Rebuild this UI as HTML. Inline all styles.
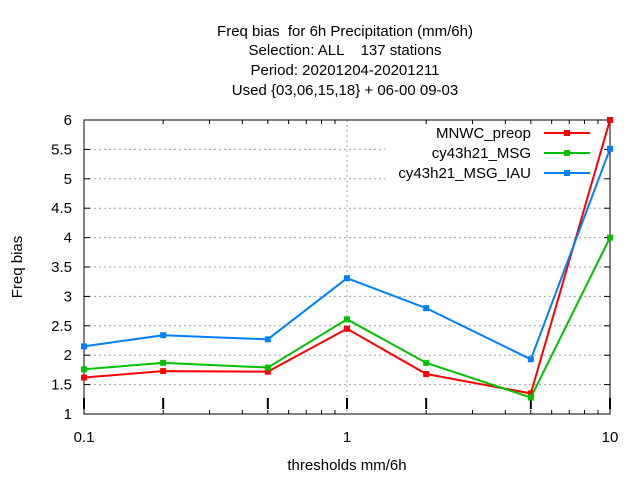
<!DOCTYPE html>
<html><head><meta charset="utf-8"><style>
body{margin:0;background:#fff;}
svg text{font-family:"Liberation Sans",sans-serif;font-size:15px;fill:#000;white-space:pre;}
</style></head><body>
<svg id="chart" width="640" height="480">
<g id="titles">
<text x="345" y="36" text-anchor="middle">Freq bias  for 6h Precipitation (mm/6h)</text>
<text x="345" y="55" text-anchor="middle">Selection: ALL    137 stations</text>
<text x="345" y="75" text-anchor="middle">Period: 20201204-20201211</text>
<text x="345" y="95" text-anchor="middle">Used {03,06,15,18} + 06-00 09-03</text>
</g>
<text x="22" y="267" text-anchor="middle" transform="rotate(-90 22 267)">Freq bias</text>
<text x="347" y="470" text-anchor="middle">thresholds mm/6h</text>
<g id="grid"></g><g id="axes"></g><g id="series"></g><g id="legend"></g>
</svg>
<script>
const categories=[0.1,0.2,0.5,1,2,5,10];
const seriesNames=["MNWC_preop","cy43h21_MSG","cy43h21_MSG_IAU"];
const seriesColors=["#ff0000","#00c000","#0080ff"];
const mnwc=[1.62,1.73,1.72,2.45,1.68,1.35,6.0];
const msg=[1.76,1.87,1.79,2.61,1.87,1.28,4.0];
const iau=[2.15,2.34,2.27,3.31,2.80,1.93,5.51];
const yTicks=[1,1.5,2,2.5,3,3.5,4,4.5,5,5.5,6];
const xTicks=[0.1,1,10];
const NS="http://www.w3.org/2000/svg";
const L=84,R=610,T=120,B=414;
function xs(v){return L+(Math.log10(v)+1)/2*(R-L);}
function ys(v){return B-(v-1)/5*(B-T);}
function mk(tag,attrs,parent){const e=document.createElementNS(NS,tag);for(const k in attrs)e.setAttribute(k,attrs[k]);parent.appendChild(e);return e;}
const grid=document.getElementById('grid'),axes=document.getElementById('axes'),ser=document.getElementById('series'),leg=document.getElementById('legend');
yTicks.forEach(v=>{const y=ys(v);
 if(v>1&&v<6){const g=mk('line',{x1:L,x2:(y<185?385:R),y1:y,y2:y,stroke:'#a0a0a0','stroke-dasharray':'2,3'},grid);
 
 }
 mk('line',{x1:L,x2:L+6,y1:y,y2:y,stroke:'#000'},axes);
 mk('line',{x1:R,x2:R-6,y1:y,y2:y,stroke:'#000'},axes);
 const t=mk('text',{x:L-12,y:y+5,'text-anchor':'end'},axes);t.textContent=String(v);
 
 
});
const vg=mk('line',{x1:xs(1),x2:xs(1),y1:T,y2:B,stroke:'#a0a0a0','stroke-dasharray':'2,3'},grid);


xTicks.forEach(v=>{const x=xs(v);
 const t=mk('text',{x:x,y:442,'text-anchor':'middle'},axes);t.textContent=String(v);
 
 
});
for(let d=0.1;d<10;d*=10){for(let k=2;k<10;k++){const x=xs(d*k);
 mk('line',{x1:x,x2:x,y1:B,y2:B-4,stroke:'#000'},axes);mk('line',{x1:x,x2:x,y1:T,y2:T+4,stroke:'#000'},axes);}}
categories.forEach(v=>{const x=xs(v);mk('line',{x1:x,x2:x,y1:398,y2:409,stroke:'#000','stroke-width':2},axes);});
const frame=mk('rect',{x:L,y:T,width:R-L,height:B-T,fill:'none',stroke:'#000'},axes);


[mnwc,msg,iau].forEach((vals,i)=>{
 const g=mk('g',{},ser);
 
 
 mk('polyline',{points:vals.map((v,j)=>xs(categories[j])+','+ys(v)).join(' '),fill:'none',stroke:seriesColors[i],'stroke-width':2},g);
 vals.forEach((v,j)=>{const p=mk('rect',{x:xs(categories[j])-3,y:ys(v)-3,width:6,height:6,fill:seriesColors[i]},g);
  
  });
 const ly=133+20*i;
 const le=mk('g',{},leg);
 
 
 const t=mk('text',{x:531,y:ly+5,'text-anchor':'end'},le);t.textContent=seriesNames[i];
 mk('line',{x1:544,x2:590,y1:ly,y2:ly,stroke:seriesColors[i],'stroke-width':2},le);
 mk('rect',{x:564,y:ly-3,width:6,height:6,fill:seriesColors[i]},le);
});
</script>
</body></html>
